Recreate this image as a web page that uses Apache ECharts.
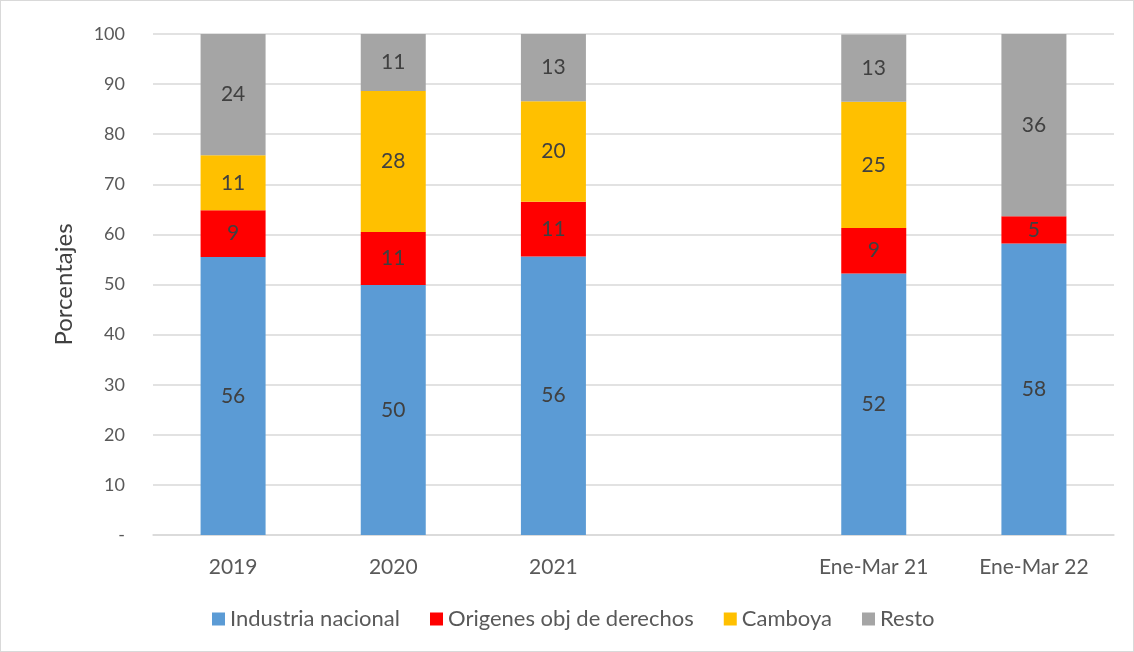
<!DOCTYPE html>
<html>
<head>
<meta charset="utf-8">
<script src="https://cdn.jsdelivr.net/npm/echarts@6/dist/echarts.min.js"></script>
<style>
  html, body { margin: 0; padding: 0; background: #fff; }
  #chart { width: 1132px; height: 650px; border: 1px solid #d9d9d9; }
</style>
</head>
<body>
<div id="chart"></div>
<script>
// categories (blank slot keeps the gap between annual and quarterly bars)
const categories = ['2019', '2020', '2021', '', 'Ene-Mar 21', 'Ene-Mar 22']
const industria = [55.5, 49.9, 55.6, null, 52.2, 58.2]
const origenes = [9.3, 10.6, 10.9, null, 9.1, 5.4]
const camboya = [11.0, 28.1, 20.1, null, 25.2, 0]
const resto = [24.2, 11.4, 13.4, null, 13.4, 36.4]
const yTicks = [0, 10, 20, 30, 40, 50, 60, 70, 80, 90, 100]

const names = ['Industria nacional', 'Origenes obj de derechos', 'Camboya', 'Resto']
const colors = ['#5B9BD5', '#FF0000', '#FFC000', '#A5A5A5']
const values = [industria, origenes, camboya, resto]

const font = 'Lato, "Open Sans", sans-serif'

const chart = echarts.init(document.getElementById('chart'))
const series = names.map((name, i) => ({
    name,
    type: 'bar',
    stack: 'total',
    barWidth: 65,
    data: values[i],
    itemStyle: { color: colors[i] },
    label: {
        show: true,
        position: 'inside',
        color: '#404040',
        fontFamily: font,
        fontSize: 21,
        formatter: p => (p.value == null || Math.round(p.value) === 0) ? '' : Math.round(p.value)
    }
}))

chart.setOption({
    animation: false,
    grid: { left: 152, right: 19, top: 33, bottom: 116 },
    legend: {
        bottom: 16,
        left: 206,
        icon: 'rect',
        itemWidth: 13,
        itemHeight: 13,
        itemGap: 30,
        textStyle: { color: '#595959', fontFamily: font, fontSize: 22 },
        data: names
    },
    xAxis: {
        type: 'category',
        data: categories,
        axisLine: { lineStyle: { color: '#d9d9d9', width: 1.5 } },
        axisTick: { show: false },
        axisLabel: { color: '#595959', fontFamily: font, fontSize: 21, margin: 22 }
    },
    yAxis: {
        type: 'value',
        min: yTicks[0],
        max: yTicks[yTicks.length - 1],
        interval: 10,
        name: 'Porcentajes',
        nameLocation: 'middle',
        nameGap: 77,
        nameRotate: 90,
        nameTextStyle: { color: '#404040', fontFamily: font, fontSize: 24 },
        axisLine: { show: false },
        axisTick: { show: false },
        splitLine: { lineStyle: { color: '#d9d9d9', width: 1.5 } },
        axisLabel: {
            color: '#595959',
            fontFamily: font,
            fontSize: 18,
            margin: 28,
            formatter: v => v === 0 ? '-' : v
        }
    },
    series
})
</script>
</body>
</html>
